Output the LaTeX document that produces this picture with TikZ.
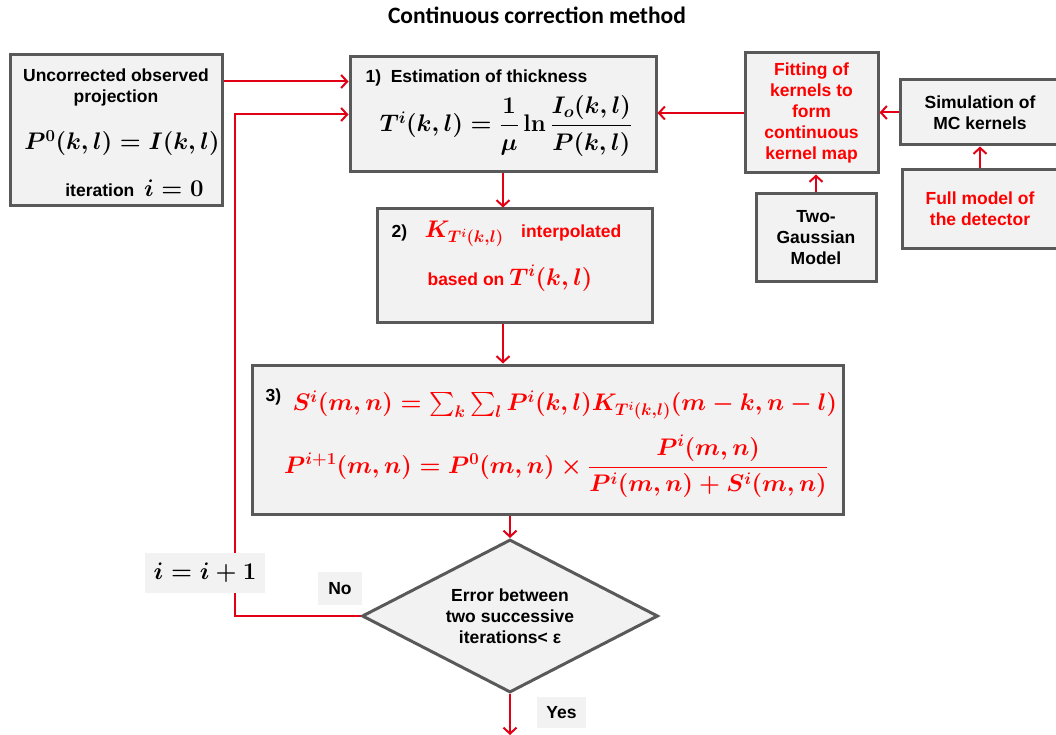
\RequirePackage{fix-cm}
\documentclass[tikz,border=0pt]{standalone}
\usepackage{amsmath,amssymb}
\usepackage[no-math]{fontspec}
\setmainfont{Liberation Sans}
\newfontfamily\titlefont{Carlito}
\usepackage{tikz}
\usetikzlibrary{arrows.meta}
\usetikzlibrary{shapes.geometric}
\definecolor{boxfill}{RGB}{242,242,242}
\definecolor{boxline}{RGB}{89,89,89}
\definecolor{flowred}{RGB}{225,0,20}
\definecolor{textred}{RGB}{255,0,0}
\newcommand{\stepfont}{\fontsize{17.5}{21}\selectfont\bfseries}
\newcommand{\mathsize}{\fontsize{24}{28}\selectfont\boldmath}

\begin{document}
\begin{tikzpicture}[x=1pt,y=-1pt,
  stage/.style={draw=boxline,line width=3pt,fill=boxfill,inner sep=0pt},
  flow/.style={draw=flowred,line width=2pt,-{Straight Barb[length=6pt,width=13pt]}},
  tag/.style={fill=boxfill,inner sep=0pt},
  note/.style={font=\stepfont,align=center}]
\useasboundingbox (0,0) rectangle (1056,735);

\node[font=\titlefont\fontsize{23.5}{28}\selectfont\bfseries] (title) at (537,15) {Continuous correction method};

% main loop
\node[stage,minimum width=212pt,minimum height=151pt] (obs) at (116,130.5) {};
\node[stage,minimum width=306pt,minimum height=115pt] (thick) at (503,114.5) {};
\node[stage,minimum width=275pt,minimum height=113pt] (interp) at (514.5,265.5) {};
\node[stage,minimum width=591pt,minimum height=149pt] (update) at (547.5,439.5) {};
\node[stage,diamond,aspect=1.93,minimum width=296pt,minimum height=153pt,note] (test) at (510,616)
  {Error between\\two successive\\iterations< ε};

% kernel side
\node[stage,note,text=textred,minimum width=133pt,minimum height=120pt] (fit) at (811.5,113)
  {Fitting of\\kernels to\\form\\continuous\\kernel map};
\node[stage,note,minimum width=160pt,minimum height=65pt] (sim) at (980,112.5) {Simulation of\\MC kernels};
\node[stage,note,text=textred,minimum width=156pt,minimum height=78pt] (detector) at (980,209) {Full model of\\the detector};
\node[stage,note,minimum width=120pt,minimum height=87pt] (gauss) at (816,237.5) {Two-\\Gaussian\\Model};

% box contents
\node[note] (obstxt) at (116,87.5) {Uncorrected observed\\projection};
\node[font=\mathsize] (obseq) at (122,143) {$P^0(k,l)=I(k,l)$};
\node[font=\stepfont] (iter) at (134.5,188) {iteration\ \ {\mathsize$i=0$}};
\node[font=\stepfont,anchor=west] (thicktxt) at (362,78) {1)\ \ Estimation of thickness};
\node[font=\mathsize] (thickeq) at (506,126) {$T^i(k,l)=\dfrac{1}{\mu}\ln\dfrac{I_o(k,l)}{P(k,l)}$};
\node[font=\stepfont,anchor=west] (interptxt) at (388,234)
  {2)\quad{\color{textred}{\mathsize$K_{T^i(k,l)}$}\quad interpolated}};
\node[font=\stepfont,text=textred] (basedtxt) at (510,278) {based on {\mathsize$T^i(k,l)$}};
\node[font=\stepfont,anchor=west] (step3) at (262,397) {3)};
\node[font=\mathsize,text=textred,anchor=west] (sumeq) at (289,405)
  {$S^i(m,n)=\sum_k\sum_l P^i(k,l)K_{T^i(k,l)}(m-k,n-l)$};
\node[font=\mathsize,text=textred] (ratioeq) at (556,466)
  {$P^{i+1}(m,n)=P^0(m,n)\times\dfrac{P^i(m,n)}{P^i(m,n)+S^i(m,n)}$};

\coordinate (feed) at ([yshift=-28pt]obs.north east);
\coordinate (loop) at (235,300);
\coordinate (exit) at (510,735);

\draw[flow] (feed) -- (feed -| thick.west);
\draw[flow] (test.west) -| (loop) |- (thick.west);
\draw[flow] (thick.south) -- (interp.north -| thick.south);
\draw[flow] (interp.south -| thick.south) -- (update.north -| thick.south);
\draw[flow] (update.south -| test.north) -- (test.north);
\draw[flow] (test.south) -- (exit);
\draw[flow] (fit.west) -- (fit.west -| thick.east);
\draw[flow] (sim.west) -- (sim.west -| fit.east);
\draw[flow] (gauss.north) -- (gauss.north |- fit.south);
\draw[flow] (detector.north) -- (detector.north |- sim.south);

% labels on the loop
\node[tag,font=\mathsize,minimum width=120pt,minimum height=40pt] (incr) at (205,573) {$i=i+1$};
\node[tag,font=\stepfont,minimum width=44pt,minimum height=33pt] (no) at (340,588.5) {No};
\node[tag,font=\stepfont,minimum width=49pt,minimum height=31pt] (yes) at (561.5,712.5) {Yes};
\end{tikzpicture}
\end{document}
